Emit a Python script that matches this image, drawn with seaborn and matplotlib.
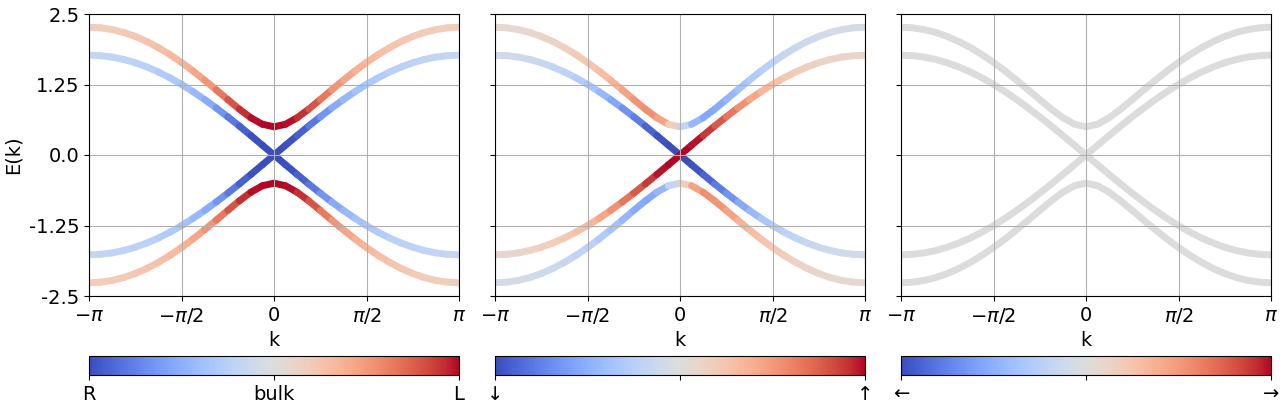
import numpy as np
import matplotlib
matplotlib.use("Agg")
import matplotlib.pyplot as plt
from matplotlib.collections import LineCollection
from matplotlib.colors import Normalize
from matplotlib.cm import ScalarMappable
import seaborn as sns

# ---------------- data ----------------
k = np.linspace(-np.pi, np.pi, 33)

E_gap_upper = [2.266, 2.255, 2.224, 2.173, 2.102, 2.012, 1.904, 1.780, 1.641, 1.489, 1.326, 1.156, 0.983, 0.813, 0.660, 0.545, 0.500,
               0.545, 0.660, 0.813, 0.983, 1.156, 1.326, 1.489, 1.641, 1.780, 1.904, 2.012, 2.102, 2.173, 2.224, 2.255, 2.266]
E_gap_lower = [-2.266, -2.255, -2.224, -2.173, -2.102, -2.012, -1.904, -1.780, -1.641, -1.489, -1.326, -1.156, -0.983, -0.813, -0.660, -0.545, -0.500,
               -0.545, -0.660, -0.813, -0.983, -1.156, -1.326, -1.489, -1.641, -1.780, -1.904, -2.012, -2.102, -2.173, -2.224, -2.255, -2.266]
E_cross_rising = [-1.770, -1.761, -1.736, -1.694, -1.635, -1.561, -1.472, -1.368, -1.252, -1.123, -0.983, -0.834, -0.677, -0.514, -0.345, -0.173, 0.000,
                  0.173, 0.345, 0.514, 0.677, 0.834, 0.983, 1.123, 1.252, 1.368, 1.472, 1.561, 1.635, 1.694, 1.736, 1.761, 1.770]
E_cross_falling = [1.770, 1.761, 1.736, 1.694, 1.635, 1.561, 1.472, 1.368, 1.252, 1.123, 0.983, 0.834, 0.677, 0.514, 0.345, 0.173, 0.000,
                   -0.173, -0.345, -0.514, -0.677, -0.834, -0.983, -1.123, -1.252, -1.368, -1.472, -1.561, -1.635, -1.694, -1.736, -1.761, -1.770]

# panel 1: edge localisation (R=0, bulk=0.5, L=1)
loc_gap = [0.58, 0.59, 0.59, 0.60, 0.61, 0.62, 0.63, 0.65, 0.67, 0.70, 0.74, 0.79, 0.86, 0.93, 0.98, 1.00, 1.00,
           1.00, 0.98, 0.93, 0.86, 0.79, 0.74, 0.70, 0.67, 0.65, 0.63, 0.62, 0.61, 0.60, 0.59, 0.59, 0.58]
loc_cross = [0.42, 0.41, 0.41, 0.40, 0.39, 0.38, 0.37, 0.35, 0.33, 0.30, 0.26, 0.21, 0.14, 0.07, 0.02, 0.00, 0.00,
             0.00, 0.02, 0.07, 0.14, 0.21, 0.26, 0.30, 0.33, 0.35, 0.37, 0.38, 0.39, 0.40, 0.41, 0.41, 0.42]

# panel 2: spin (down=0, up=1)
spin_gap_upper = [0.53, 0.53, 0.54, 0.54, 0.55, 0.56, 0.57, 0.59, 0.61, 0.63, 0.66, 0.70, 0.75, 0.78, 0.77, 0.68, 0.50,
                  0.32, 0.23, 0.22, 0.25, 0.30, 0.34, 0.37, 0.39, 0.41, 0.43, 0.44, 0.45, 0.46, 0.46, 0.47, 0.47]
spin_gap_lower = [0.47, 0.47, 0.46, 0.46, 0.45, 0.44, 0.43, 0.41, 0.39, 0.37, 0.34, 0.30, 0.25, 0.22, 0.23, 0.32, 0.50,
                  0.68, 0.77, 0.78, 0.75, 0.70, 0.66, 0.63, 0.61, 0.59, 0.57, 0.56, 0.55, 0.54, 0.54, 0.53, 0.53]
spin_cross_rising = [0.54, 0.55, 0.55, 0.56, 0.57, 0.58, 0.60, 0.62, 0.65, 0.69, 0.74, 0.80, 0.86, 0.92, 0.97, 1.00, 1.00,
                     1.00, 0.97, 0.92, 0.86, 0.80, 0.74, 0.69, 0.65, 0.62, 0.60, 0.58, 0.57, 0.56, 0.55, 0.55, 0.54]
spin_cross_falling = [0.46, 0.45, 0.45, 0.44, 0.43, 0.42, 0.40, 0.38, 0.35, 0.31, 0.26, 0.20, 0.14, 0.08, 0.03, 0.00, 0.00,
                      0.00, 0.03, 0.08, 0.14, 0.20, 0.26, 0.31, 0.35, 0.38, 0.40, 0.42, 0.43, 0.44, 0.45, 0.45, 0.46]

# panel 3: neutral
neutral_value = 0.5

y_ticks = [-2.5, -1.25, 0.0, 1.25, 2.5]
y_ticklabels = ["-2.5", "-1.25", "0.0", "1.25", "2.5"]
x_ticks = [-np.pi, -np.pi / 2, 0, np.pi / 2, np.pi]
x_ticklabels = [r"$-\pi$", r"$-\pi/2$", "0", r"$\pi/2$", r"$\pi$"]
cbar_ticks = [0.0, 0.5, 1.0]
cbar_labels = [["R", "bulk", "L"], ["↓", "", "↑"], ["←", "", "→"]]

# ---------------- plotting ----------------
plt.rcParams["font.family"] = ["DejaVu Sans"]
FS = 14
cmap = sns.color_palette("coolwarm", as_cmap=True)
norm = Normalize(0, 1)
LW = 5

fig = plt.figure(figsize=(12.88, 4.08), dpi=100)
lefts = [89 / 1288, 495 / 1288, 901 / 1288]
W = 370 / 1288
ax_bottom, ax_h = 1 - 296 / 408, 282 / 408
cb_bottom, cb_h = 1 - 375 / 408, 19 / 408


def colored_band(ax, y, c):
    pts = np.column_stack([k, np.asarray(y)])
    segs = np.stack([pts[:-1], pts[1:]], axis=1)
    c = np.asarray(c)
    lc = LineCollection(segs, cmap=cmap, norm=norm, linewidths=LW, capstyle="round", zorder=1)
    lc.set_array(0.5 * (c[:-1] + c[1:]))
    ax.add_collection(lc)


panels = [
    [(E_gap_upper, loc_gap), (E_gap_lower, loc_gap), (E_cross_falling, loc_cross), (E_cross_rising, loc_cross)],
    [(E_gap_upper, spin_gap_upper), (E_gap_lower, spin_gap_lower), (E_cross_falling, spin_cross_falling),
     (E_cross_rising, spin_cross_rising)],
    None,
]

for i in range(3):
    ax = fig.add_axes([lefts[i], ax_bottom, W, ax_h])
    if panels[i] is not None:
        for y, c in panels[i]:
            colored_band(ax, y, c)
    else:
        for y in [E_gap_upper, E_gap_lower, E_cross_falling, E_cross_rising]:
            sns.lineplot(x=k, y=y, ax=ax, color=cmap(neutral_value), linewidth=LW, zorder=1,
                         solid_capstyle="round")
    ax.set_xlim(-np.pi, np.pi)
    ax.set_ylim(-2.5, 2.5)
    ax.set_xticks(x_ticks)
    ax.set_xticklabels(x_ticklabels, fontsize=FS)
    ax.set_yticks(y_ticks)
    if i == 0:
        ax.set_yticklabels(y_ticklabels, fontsize=FS)
        ax.set_ylabel("E(k)", fontsize=FS)
    else:
        ax.set_yticklabels([])
        ax.set_ylabel("")
    ax.set_xlabel("k", fontsize=FS)
    ax.grid(True, color="#b0b0b0", linewidth=0.8)

    cax = fig.add_axes([lefts[i], cb_bottom, W, cb_h])
    sm = ScalarMappable(norm=norm, cmap=cmap)
    cb = fig.colorbar(sm, cax=cax, orientation="horizontal", ticks=cbar_ticks)
    cb.ax.set_xticklabels(cbar_labels[i], fontsize=FS)

fig.savefig("out.png", dpi=100)
